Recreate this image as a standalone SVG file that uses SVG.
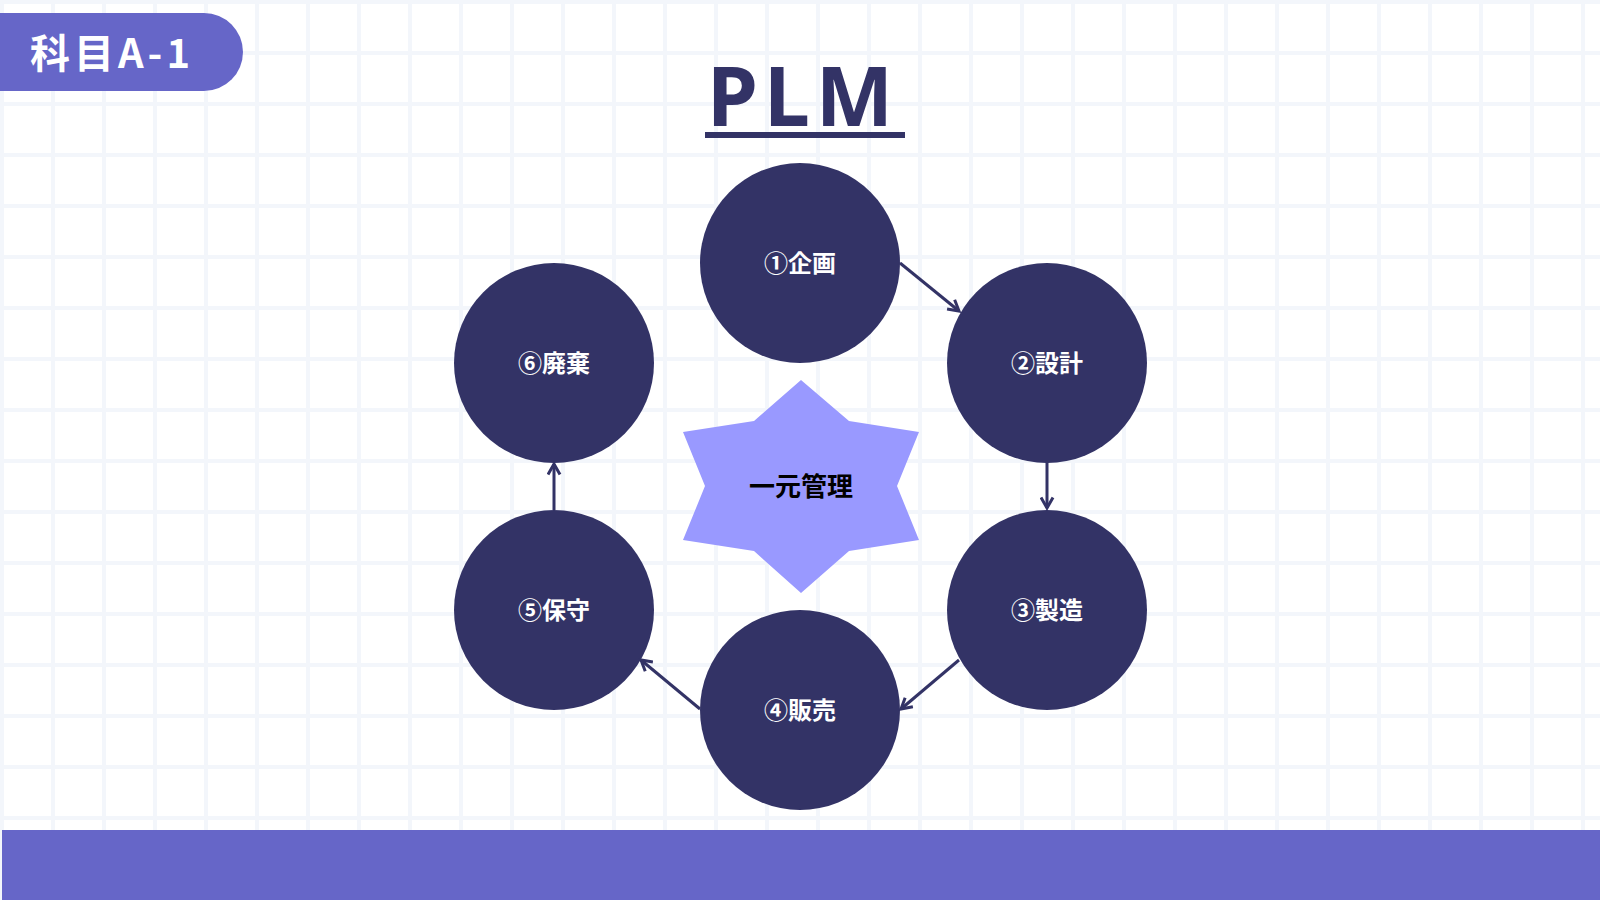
<svg xmlns="http://www.w3.org/2000/svg" width="1600" height="900" viewBox="0 0 1600 900">
<defs>
<pattern id="grid" width="51" height="51" patternUnits="userSpaceOnUse" x="0" y="0">
<rect width="51" height="51" fill="#ffffff"/>
<rect x="0" y="0" width="4" height="51" fill="#f3f6fb"/>
<rect x="0" y="0" width="51" height="4" fill="#f3f6fb"/>
</pattern>
<marker id="ah" viewBox="0 0 10 10" refX="8" refY="5" markerWidth="5" markerHeight="5" orient="auto">
<path d="M1,1 L8,5 L1,9" fill="none" stroke="#333366" stroke-width="2"/>
</marker>
<style>
.c{fill:#333366}
.t{font-family:"Noto Sans CJK JP","Noto Sans",sans-serif;font-weight:700;font-size:24px;fill:#fff;text-anchor:middle}
.a{stroke:#333366;stroke-width:3;fill:none;marker-end:url(#ah)}
</style>
</defs>
<rect width="1600" height="900" fill="url(#grid)"/>
<rect x="2" y="830" width="1598" height="70" fill="#6666c8"/>
<g id="badge">
<path d="M0,13 H204 A39,39 0 0 1 204,91 H0 Z" fill="#6666c8"/>
<text x="112" y="68" font-family="Noto Sans CJK JP,sans-serif" font-weight="700" font-size="40" fill="#fff" text-anchor="middle" letter-spacing="4">科目A-1</text>
</g>
<g id="title">
<text x="803" y="126" font-family="Noto Sans,sans-serif" font-weight="700" font-size="82" fill="#333366" text-anchor="middle" letter-spacing="6">PLM</text>
<rect x="705" y="132" width="200" height="6" fill="#333366"/>
</g>
<g id="center">
<polygon points="801,380 849,421 919,432 897,486 919,540 849,551 801,593 754,551 683,540 705,486 683,432 754,421" fill="#9999ff"/>
<text x="801" y="496" font-family="Noto Sans CJK JP,sans-serif" font-weight="700" font-size="26" fill="#000" text-anchor="middle">一元管理</text>
</g>
<g id="n1"><circle class="c" cx="800" cy="263" r="100"/><text class="t" x="800" y="272">①企画</text></g>
<g id="n2"><circle class="c" cx="1047" cy="363" r="100"/><text class="t" x="1047" y="372">②設計</text></g>
<g id="n3"><circle class="c" cx="1047" cy="610" r="100"/><text class="t" x="1047" y="619">③製造</text></g>
<g id="n4"><circle class="c" cx="800" cy="710" r="100"/><text class="t" x="800" y="719">④販売</text></g>
<g id="n5"><circle class="c" cx="554" cy="610" r="100"/><text class="t" x="554" y="619">⑤保守</text></g>
<g id="n6"><circle class="c" cx="554" cy="363" r="100"/><text class="t" x="554" y="372">⑥廃棄</text></g>
<g id="connectors">
<line class="a" x1="900" y1="263" x2="959" y2="311"/>
<line class="a" x1="1047" y1="462" x2="1047" y2="508"/>
<line class="a" x1="959" y1="660" x2="901" y2="709"/>
<line class="a" x1="700" y1="709" x2="641" y2="660"/>
<line class="a" x1="554" y1="510" x2="554" y2="464"/>
</g>
</svg>
